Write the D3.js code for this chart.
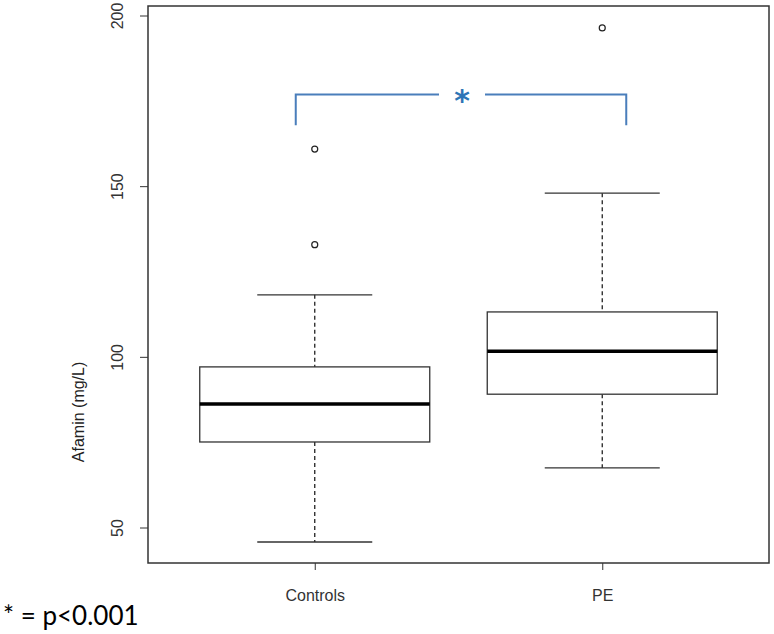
<!DOCTYPE html>
<html><head><meta charset="utf-8">
<script src="https://cdn.jsdelivr.net/npm/d3@7"></script>
<style>body{margin:0;background:#fff}svg{display:block}</style>
</head><body>
<script>
const categories = ["Controls", "PE"];
const lowerWhisker = [45.9, 67.6];
const q1 = [75.2, 89.2];
const median = [86.3, 101.8];
const q3 = [97.2, 113.3];
const upperWhisker = [118.3, 148.1];
const outliers = [[161, 133], [196.5]];
const yTicks = [50, 100, 150, 200];
const bracketY = 177;
const bracketDrop = 168;
const sigLabel = "*";
const footnote = "* = p<0.001";

const W = 774, H = 634;
const L = 148, R = 769, T = 6, B = 563;
const svg = d3.select("body").append("svg").attr("width", W).attr("height", H);

const y = d3.scaleLinear().domain([50, 200]).range([528, 16]);
const x = d3.scaleLinear().domain([0.42, 2.58]).range([L, R]);
const boxHalf = 0.4, capHalf = 0.2;
const axisFont = "16px 'Liberation Sans', Arial, sans-serif";

// y axis
const yAxis = svg.append("g").attr("transform", `translate(${L},0)`)
  .call(d3.axisLeft(y).tickValues(yTicks).tickSize(8).tickPadding(0).tickFormat(d3.format("d")));
yAxis.select(".domain").remove();
yAxis.selectAll(".tick").attr("transform", "translate(0,0)");
yAxis.selectAll(".tick line").attr("stroke", "#333").attr("y1", d => y(d)).attr("y2", d => y(d));
yAxis.selectAll(".tick text")
  .attr("x", 0).attr("y", 0).attr("dy", null)
  .attr("transform", d => `translate(-25,${y(d)}) rotate(-90)`)
  .attr("text-anchor", "middle")
  .style("font", axisFont).attr("fill", "#333");

// x axis
const xAxis = svg.append("g").attr("transform", `translate(0,${B})`)
  .call(d3.axisBottom(x).tickValues([1, 2]).tickSize(7).tickPadding(0)
    .tickFormat(d => categories[d - 1]));
xAxis.select(".domain").remove();
xAxis.selectAll("line").attr("stroke", "#333");
xAxis.selectAll("text").attr("y", 38).attr("dy", null)
  .style("font", axisFont).attr("fill", "#333");

// frame
svg.append("rect").attr("x", L).attr("y", T).attr("width", R - L).attr("height", B - T)
  .attr("fill", "none").attr("stroke", "#333").attr("stroke-width", 1.5);

// y label
svg.append("text").attr("transform", `translate(84,${y(84)}) rotate(-90)`)
  .attr("text-anchor", "middle")
  .style("font", axisFont).attr("fill", "#222")
  .text("Afamin (mg/L)");

// boxes
categories.forEach((c, i) => {
  const cx = x(i + 1);
  const g = svg.append("g");
  g.append("line").attr("x1", cx).attr("x2", cx).attr("y1", y(upperWhisker[i])).attr("y2", y(q3[i]))
    .attr("stroke", "#222").attr("stroke-width", 1.3).attr("stroke-dasharray", "4,3");
  g.append("line").attr("x1", cx).attr("x2", cx).attr("y1", y(q1[i])).attr("y2", y(lowerWhisker[i]))
    .attr("stroke", "#222").attr("stroke-width", 1.3).attr("stroke-dasharray", "4,3");
  [upperWhisker[i], lowerWhisker[i]].forEach(v => {
    g.append("line").attr("x1", x(i + 1 - capHalf)).attr("x2", x(i + 1 + capHalf))
      .attr("y1", y(v)).attr("y2", y(v)).attr("stroke", "#333").attr("stroke-width", 1.3);
  });
  g.append("rect").attr("x", x(i + 1 - boxHalf)).attr("width", x(i + 1 + boxHalf) - x(i + 1 - boxHalf))
    .attr("y", y(q3[i])).attr("height", y(q1[i]) - y(q3[i]))
    .attr("fill", "#fff").attr("stroke", "#333").attr("stroke-width", 1.3);
  g.append("line").attr("x1", x(i + 1 - boxHalf)).attr("x2", x(i + 1 + boxHalf))
    .attr("y1", y(median[i])).attr("y2", y(median[i])).attr("stroke", "#000").attr("stroke-width", 3.5);
  outliers[i].forEach(v => {
    g.append("circle").attr("cx", cx).attr("cy", y(v)).attr("r", 3)
      .attr("fill", "none").attr("stroke", "#222").attr("stroke-width", 1.2);
  });
});

// significance bracket
const bx1 = x(1) - 19, bx2 = x(2) + 24;
const starX = (bx1 + bx2) / 2 + 1;
const by = y(bracketY), bd = y(bracketDrop);
const blue = "#4a7ebb";
svg.append("path").attr("d", `M${bx1},${bd}V${by}H${starX - 23}`)
  .attr("fill", "none").attr("stroke", blue).attr("stroke-width", 2);
svg.append("path").attr("d", `M${starX + 23},${by}H${bx2}V${bd}`)
  .attr("fill", "none").attr("stroke", blue).attr("stroke-width", 2);
svg.append("text").attr("x", starX).attr("y", by + 16).attr("text-anchor", "middle")
  .style("font", "bold 30px 'DejaVu Sans', sans-serif").attr("fill", "#2e75b6").text(sigLabel);

// footnote
svg.append("text").attr("x", 3).attr("y", 625)
  .style("font", "26px Lato, 'Open Sans', sans-serif").attr("fill", "#000").text(footnote);
</script>
</body></html>
